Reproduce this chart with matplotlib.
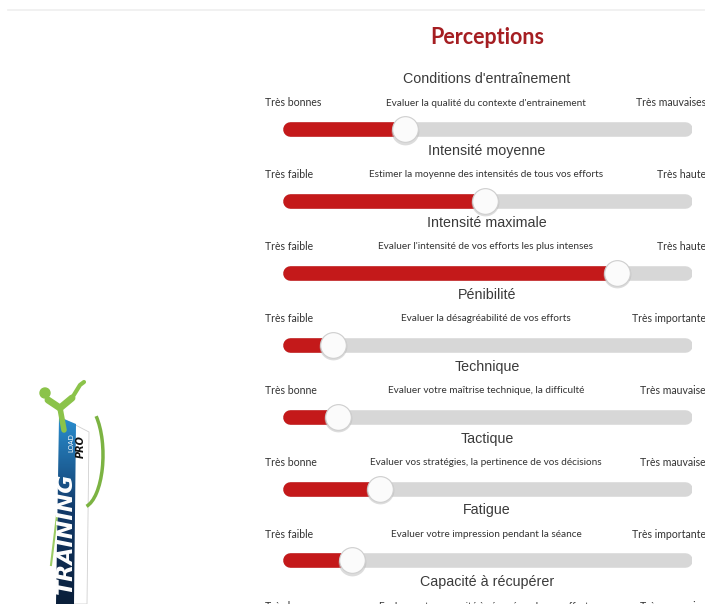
import numpy as np
import matplotlib.pyplot as plt
from matplotlib.patches import Polygon, Arc, Circle

titles = ["Conditions d'entraînement", "Intensité moyenne", "Intensité maximale",
          "Pénibilité", "Technique", "Tactique", "Fatigue", "Capacité à récupérer"]
hints = ["Evaluer la qualité du contexte d'entrainement",
         "Estimer la moyenne des intensités de tous vos efforts",
         "Evaluer l'intensité de vos efforts les plus intenses",
         "Evaluer la désagréabilité de vos efforts",
         "Evaluer votre maîtrise technique, la difficulté",
         "Evaluer vos stratégies, la pertinence de vos décisions",
         "Evaluer votre impression pendant la séance",
         "Evaluer votre capacité à récupérer de vos efforts"]
low_labels = ["Très bonnes", "Très faible", "Très faible", "Très faible",
              "Très bonne", "Très bonne", "Très faible", "Très bonne"]
high_labels = ["Très mauvaises", "Très haute", "Très haute", "Très importante",
               "Très mauvaise", "Très mauvaise", "Très importante", "Très mauvaise"]
values = [28.5, 49.3, 83.8, 9.7, 11.0, 21.9, 14.6, 20.0]

W, H = 705, 604
RED = '#c4191a'
TRACK = '#d7d7d7'

fig = plt.figure(figsize=(W / 100, H / 100), dpi=100)
fig.patch.set_facecolor('white')

# background axes in pixel coordinates (text + logo)
ax = fig.add_axes([0, 0, 1, 1])
ax.set_xlim(0, W)
ax.set_ylim(H, 0)
ax.axis('off')

# slider axes: x in value units, knob travels 0..100 between px 296 and 679
px0, px1 = 296, 679
ppu = (px1 - px0) / 100.0
track_l, track_r = 283, 692
ax_s = fig.add_axes([track_l / W, 0, (track_r - track_l) / W, 1])
ax_s.set_xlim((track_l - px0) / ppu, (track_r - px0) / ppu)
ax_s.set_ylim(H, 0)
ax_s.axis('off')

ax.plot([8, W], [9.5, 9.5], color='#efefef', lw=1.2)
ax.text(487, 37, 'Perceptions', ha='center', va='center', fontsize=15.5,
        fontweight='bold', color='#a51e22', family='Lato')

row0, step = 129, 71.9
cap = 7 / ppu
lo, hi = (track_l - px0) / ppu + cap, (track_r - px0) / ppu - cap
for i, (t, h, a, b, v) in enumerate(zip(titles, hints, low_labels, high_labels, values)):
    y = row0 + step * i
    ax.text(487, y - 50, t, ha='center', va='center', fontsize=10.3,
            color='#3a3a3a', family='Liberation Sans')
    ax.text(265, y - 26, a, ha='left', va='center', fontsize=7.6,
            color='#333333', family='Lato')
    ax.text(486, y - 26, h, ha='center', va='center', fontsize=7.2,
            color='#333333', family='Lato')
    ax.text(706, y - 26, b, ha='right', va='center', fontsize=7.6,
            color='#333333', family='Lato')
    ax_s.plot([lo, hi], [y, y], color=TRACK, lw=10.5, solid_capstyle='round')
    ax_s.plot([lo, v], [y, y], color=RED, lw=10.5, solid_capstyle='round')
    ax_s.plot([v], [y + 1.5], 'o', ms=20, color='#bbbbbb', alpha=0.5, mec='none')
    ax_s.plot([v], [y], 'o', ms=18.5, mfc='#fbfbfb', mec='#cfcfcf', mew=0.8)

# logo
band = Polygon([[57, 604], [60, 417], [89, 432], [87, 604]], closed=True,
               fc='white', ec='#d0d0d0', lw=0.6)
ax.add_patch(band)
blue = Polygon([[56, 604], [59, 417], [76, 424], [74, 604]], closed=True,
               fc='none', ec='none')
ax.add_patch(blue)
grad = np.linspace(0, 1, 100).reshape(-1, 1)
im = ax.imshow(grad, cmap=plt.matplotlib.colors.LinearSegmentedColormap.from_list(
    'b', ['#2a8fd0', '#123a6a', '#0a1f3a']), extent=[54, 78, 604, 415],
    aspect='auto', zorder=2)
im.set_clip_path(blue)
ax.text(66, 533, 'TRAINING', rotation=90, ha='center', va='center', fontsize=16,
        fontweight='bold', fontstyle='italic', color='white', family='DejaVu Sans',
        zorder=3)
ax.text(71, 443, 'LOAD', rotation=90, ha='center', va='center', fontsize=5,
        color='white', family='DejaVu Sans', zorder=3)
ax.text(81, 447, 'PRO', rotation=90, ha='center', va='center', fontsize=7,
        fontweight='bold', fontstyle='italic', color='#111111', family='DejaVu Sans',
        zorder=3)
ax.add_patch(Arc((82, 455), 42, 105, theta1=-70, theta2=85, color='#7cb342', lw=2.5))
ax.add_patch(Circle((45, 393), 5, color='#8bc34a'))
ax.plot([48, 60, 72], [400, 408, 398], color='#8bc34a', lw=5, solid_capstyle='round')
ax.plot([72, 80, 84], [398, 385, 382], color='#8bc34a', lw=3, solid_capstyle='round')
ax.plot([60, 64], [408, 430], color='#8bc34a', lw=4, solid_capstyle='round')
ax.plot([51, 57], [565, 515], color='#9ccc65', lw=1.5)

fig.savefig('out.png', dpi=100, facecolor='white')
